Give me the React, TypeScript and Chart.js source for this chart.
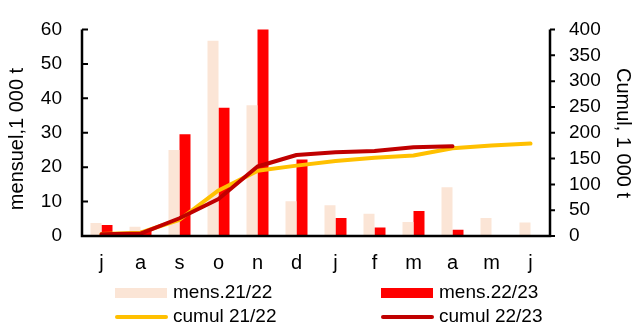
import { useEffect, useRef } from 'react';
import { Chart, registerables } from 'chart.js';

Chart.register(...registerables);

// Monthly deliveries (1 000 t) and running totals, campaign July -> June
const months = ['j', 'a', 's', 'o', 'n', 'd', 'j', 'f', 'm', 'a', 'm', 'j'];
const mens2122 = [3.8, 2.7, 25.0, 56.7, 38.0, 10.1, 8.9, 6.5, 4.1, 14.2, 5.2, 3.9];
const mens2223 = [3.2, 1.6, 29.6, 37.3, 63.0, 22.2, 5.2, 2.5, 7.3, 1.8, null, null];
const cumul2122 = [3.8, 6.5, 31.5, 88.2, 126.2, 136.3, 145.2, 151.7, 155.8, 170.0, 175.2, 179.1];
const cumul2223 = [3.2, 4.8, 34.4, 71.7, 134.7, 156.9, 162.1, 164.6, 171.9, 173.7, null, null];

const seriesLabels = ['mens.21/22', 'mens.22/23', 'cumul 21/22', 'cumul 22/23'];
const leftTitle = 'mensuel,1 000 t';
const rightTitle = 'Cumul, 1 000 t';

const FONT = '"Liberation Sans", Arial, sans-serif';
const C_LIGHT = '#FBE5D6';
const C_RED = '#FF0000';
const C_YELLOW = '#FFC000';
const C_DARK = '#C00000';

// Axis lines, inside/outside tick marks and rotated axis titles
const axesPlugin = {
  id: 'axesDecor',
  afterDatasetsDraw(chart: any) {
    const { ctx, chartArea: a, scales } = chart;
    ctx.save();
    ctx.strokeStyle = '#000';
    ctx.lineWidth = 2.5;
    ctx.beginPath();
    ctx.moveTo(a.left, a.top);
    ctx.lineTo(a.left, a.bottom);
    ctx.moveTo(a.right, a.top);
    ctx.lineTo(a.right, a.bottom);
    ctx.moveTo(a.left - 1.25, a.bottom);
    ctx.lineTo(a.right + 1.25, a.bottom);
    ctx.stroke();
    ctx.lineWidth = 2;
    ctx.beginPath();
    for (const t of scales.y.ticks) {
      const y = scales.y.getPixelForValue(t.value);
      ctx.moveTo(a.left, y);
      ctx.lineTo(a.left + 6, y);
    }
    for (const t of scales.y1.ticks) {
      const y = scales.y1.getPixelForValue(t.value);
      ctx.moveTo(a.right, y);
      ctx.lineTo(a.right + 5, y);
    }
    ctx.stroke();

    ctx.fillStyle = '#000';
    ctx.font = `20px ${FONT}`;
    ctx.textAlign = 'center';
    ctx.textBaseline = 'middle';
    ctx.save();
    ctx.translate(17, 139);
    ctx.rotate(-Math.PI / 2);
    ctx.fillText(leftTitle, 0, 0);
    ctx.restore();
    ctx.save();
    ctx.translate(623, 133);
    ctx.rotate(Math.PI / 2);
    ctx.fillText(rightTitle, 0, 0);
    ctx.restore();
    ctx.restore();
  },
};

// Two-column legend under the plot
const legendPlugin = {
  id: 'gridLegend',
  afterDraw(chart: any) {
    const { ctx } = chart;
    const ds = chart.data.datasets;
    const cols = [115, 381];
    const rows = [293, 317];
    ctx.save();
    ctx.font = `19px ${FONT}`;
    ctx.textAlign = 'left';
    ctx.textBaseline = 'middle';
    ds.forEach((d: any, i: number) => {
      const x = cols[i % 2];
      const y = rows[Math.floor(i / 2)];
      if (d.type === 'bar') {
        ctx.fillStyle = d.backgroundColor;
        ctx.fillRect(x, y - 5, 52, 10);
      } else {
        ctx.strokeStyle = d.borderColor;
        ctx.lineWidth = 4;
        ctx.lineCap = 'round';
        ctx.beginPath();
        ctx.moveTo(x + 2, y);
        ctx.lineTo(x + 51, y);
        ctx.stroke();
      }
      ctx.fillStyle = '#000';
      ctx.fillText(d.label, x + 58, y);
    });
    ctx.restore();
  },
};

export default function App() {
  const ref = useRef<HTMLCanvasElement | null>(null);

  useEffect(() => {
    if (!ref.current) return;
    const chart = new Chart(ref.current, {
      type: 'bar',
      data: {
        labels: months,
        datasets: [
          {
            type: 'bar',
            label: seriesLabels[0],
            data: mens2122,
            backgroundColor: C_LIGHT,
            yAxisID: 'y',
            order: 2,
          },
          {
            type: 'bar',
            label: seriesLabels[1],
            data: mens2223,
            backgroundColor: C_RED,
            yAxisID: 'y',
            order: 3,
          },
          {
            type: 'line',
            label: seriesLabels[2],
            data: cumul2122,
            borderColor: C_YELLOW,
            backgroundColor: C_YELLOW,
            borderWidth: 4,
            pointRadius: 0,
            borderCapStyle: 'round',
            borderJoinStyle: 'round',
            tension: 0,
            yAxisID: 'y1',
            order: 1,
          },
          {
            type: 'line',
            label: seriesLabels[3],
            data: cumul2223,
            borderColor: C_DARK,
            backgroundColor: C_DARK,
            borderWidth: 4,
            pointRadius: 0,
            borderCapStyle: 'round',
            borderJoinStyle: 'round',
            tension: 0,
            yAxisID: 'y1',
            order: 0,
          },
        ] as any,
      },
      options: {
        responsive: false,
        animation: false,
        devicePixelRatio: 1,
        layout: { padding: { top: 17, left: 0, right: 0, bottom: 0 } },
        datasets: { bar: { categoryPercentage: 0.564, barPercentage: 1 } },
        plugins: { legend: { display: false }, tooltip: { enabled: false } },
        scales: {
          x: {
            grid: { display: false, drawTicks: false },
            border: { display: false },
            ticks: { color: '#000', font: { family: FONT, size: 20 }, padding: 15 },
            afterFit: (s: any) => {
              s.height = 90;
            },
          },
          y: {
            position: 'left',
            min: 0,
            max: 60,
            grid: { display: false, drawTicks: false },
            border: { display: false },
            ticks: {
              stepSize: 10,
              autoSkip: false,
              maxTicksLimit: 20,
              color: '#000',
              font: { family: FONT, size: 19, lineHeight: 1 },
              padding: 20,
            },
            afterFit: (s: any) => {
              s.width = 82;
            },
          },
          y1: {
            position: 'right',
            min: 0,
            max: 400,
            grid: { display: false, drawTicks: false },
            border: { display: false },
            ticks: {
              stepSize: 50,
              autoSkip: false,
              maxTicksLimit: 20,
              color: '#000',
              font: { family: FONT, size: 19, lineHeight: 1 },
              padding: 19,
            },
            afterFit: (s: any) => {
              s.width = 88;
            },
          },
        },
      },
      plugins: [axesPlugin, legendPlugin],
    });
    return () => chart.destroy();
  }, []);

  return (
    <div style={{ position: 'absolute', left: 0, top: 0, width: 638, height: 326, background: '#fff' }}>
      <canvas ref={ref} width={638} height={326} style={{ display: 'block' }} />
    </div>
  );
}
